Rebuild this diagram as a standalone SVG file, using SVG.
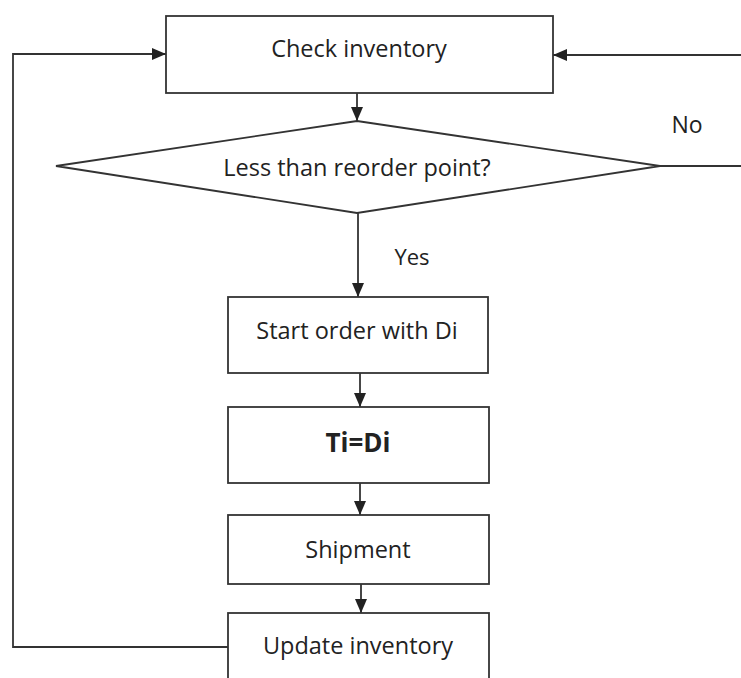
<svg xmlns="http://www.w3.org/2000/svg" width="741" height="678" viewBox="0 0 741 678">
<style>
.box{fill:#fff;stroke:#333;stroke-width:1.8}
.lbl{font-family:"Open Sans","Noto Sans",sans-serif;font-size:23.5px;fill:#222;text-anchor:middle}
.edge{fill:none;stroke:#333;stroke-width:1.8}
</style>
<defs>
<marker id="ah" viewBox="0 0 14 12" refX="14" refY="6" markerWidth="14" markerHeight="12" markerUnits="userSpaceOnUse" orient="auto">
<path d="M0,0 L14,6 L0,12 Z" fill="#222"/>
</marker>
</defs>
<rect width="741" height="678" fill="#fff"/>
<g id="connectors">
<path class="edge" d="M357,93 V121" marker-end="url(#ah)"/>
<path class="edge" d="M358,213 V297" marker-end="url(#ah)"/>
<path class="edge" d="M360,373 V407" marker-end="url(#ah)"/>
<path class="edge" d="M360,483 V515" marker-end="url(#ah)"/>
<path class="edge" d="M361,584 V613" marker-end="url(#ah)"/>
<path class="edge" d="M228,647 H13 V54 H166" marker-end="url(#ah)"/>
<path class="edge" d="M660,166 H741"/>
<path class="edge" d="M741,55 H553" marker-end="url(#ah)"/>
<text class="lbl" x="412" y="265" style="font-size:22px">Yes</text>
<text class="lbl" x="687" y="133" style="font-size:23px">No</text>
</g>
<g id="check">
<rect class="box" x="166" y="16" width="387" height="77"/>
<text class="lbl" x="359" y="57">Check inventory</text>
</g>
<g id="decision">
<polygon class="box" points="357,121 660,166 357,213 56,166"/>
<text class="lbl" x="357" y="176">Less than reorder point?</text>
</g>
<g id="start">
<rect class="box" x="228" y="297" width="260" height="76"/>
<text class="lbl" x="357" y="339">Start order with Di</text>
</g>
<g id="tidi">
<rect class="box" x="228" y="407" width="261" height="76"/>
<text class="lbl" x="358" y="452" style="font-size:26px;font-weight:bold">Ti=Di</text>
</g>
<g id="shipment">
<rect class="box" x="228" y="515" width="261" height="69"/>
<text class="lbl" x="358" y="558">Shipment</text>
</g>
<g id="update">
<rect class="box" x="228" y="613" width="261" height="80"/>
<text class="lbl" x="358" y="654">Update inventory</text>
</g>
</svg>
